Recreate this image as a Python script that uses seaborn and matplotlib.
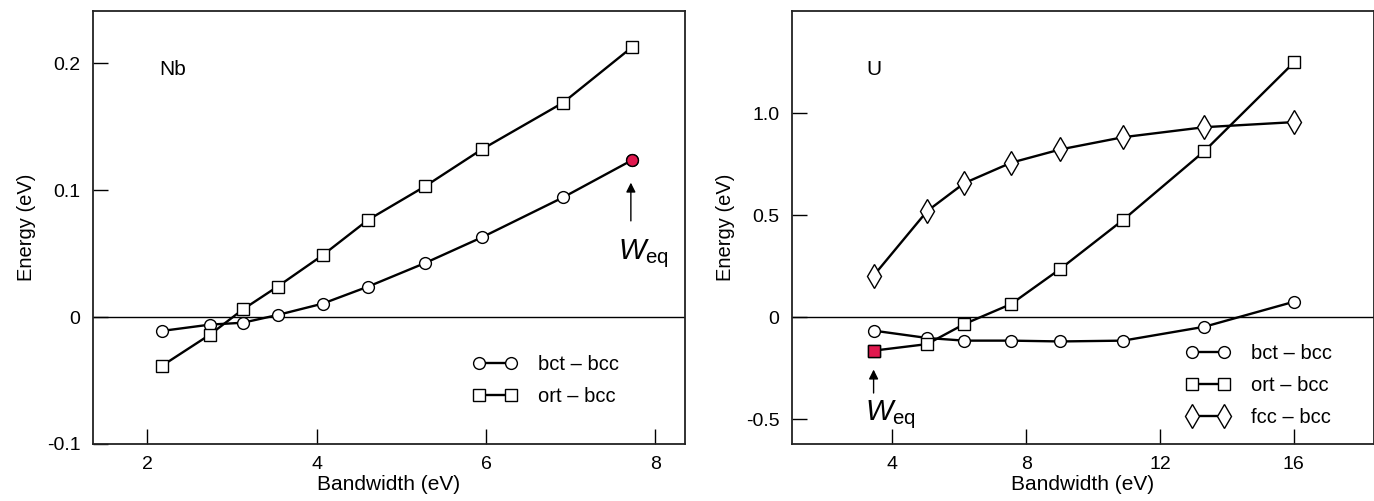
import numpy as np
import pandas as pd
import seaborn as sns
import matplotlib
matplotlib.use('Agg')
import matplotlib.pyplot as plt

# Nb panel
nb_width = [2.17, 2.74, 3.13, 3.54, 4.07, 4.61, 5.28, 5.95, 6.91, 7.72]
nb_bct = [-0.011, -0.006, -0.0045, 0.0016, 0.0105, 0.024, 0.0425, 0.0627, 0.0942, 0.1234]
nb_ort = [-0.0386, -0.0139, 0.006, 0.024, 0.0486, 0.0766, 0.1029, 0.132, 0.1688, 0.2123]
nb_weq = (7.72, 0.1234)

# U panel
u_width = [3.44, 5.04, 6.15, 7.55, 9.02, 10.9, 13.33, 16.02]
u_bct = [-0.065, -0.101, -0.114, -0.114, -0.118, -0.114, -0.046, 0.077]
u_ort = [-0.163, -0.131, -0.033, 0.065, 0.237, 0.477, 0.814, 1.25]
u_fcc = [0.204, 0.52, 0.657, 0.757, 0.822, 0.882, 0.931, 0.956]
u_weq = (3.44, -0.163)

nb_yticks = [-0.1, 0, 0.1, 0.2]
nb_ylabels = ['-0.1', '0', '0.1', '0.2']
nb_xticks = [2, 4, 6, 8]
u_yticks = [-0.5, 0, 0.5, 1.0]
u_ylabels = ['-0.5', '0', '0.5', '1.0']
u_xticks = [4, 8, 12, 16]

sns.set_style('white')
plt.rcParams['font.family'] = ['Liberation Sans', 'DejaVu Sans']
plt.rcParams['mathtext.fontset'] = 'custom'
plt.rcParams['mathtext.rm'] = 'Liberation Sans'
plt.rcParams['mathtext.it'] = 'Liberation Sans:italic'
plt.rcParams['axes.unicode_minus'] = False
plt.rcParams['text.color'] = 'black'
plt.rcParams['axes.labelcolor'] = 'black'

fig = plt.figure(figsize=(13.74, 5.01), dpi=100)
ax1 = fig.add_axes([0.0677, 0.1138, 0.4309, 0.8643])
ax2 = fig.add_axes([0.5764, 0.1138, 0.4236, 0.8643])

red = '#e0184e'
line_kw = dict(color='black', linewidth=1.7, markeredgecolor='black',
               markeredgewidth=1.0, markerfacecolor='white', errorbar=None)


def draw(ax, x, y, marker, size, label):
    df = pd.DataFrame({'w': x, 'e': y})
    sns.lineplot(data=df, x='w', y='e', ax=ax, marker=marker,
                 markersize=size, label=label, **line_kw)


draw(ax1, nb_width, nb_bct, 'o', 8.5, 'bct – bcc')
draw(ax1, nb_width, nb_ort, 's', 8, 'ort – bcc')
ax1.plot(*nb_weq, marker='o', markersize=8.5, markerfacecolor=red,
         markeredgecolor='black', markeredgewidth=1.0, zorder=5)

draw(ax2, u_width, u_bct, 'o', 8.5, 'bct – bcc')
draw(ax2, u_width, u_ort, 's', 8, 'ort – bcc')
draw(ax2, u_width, u_fcc, 'd', 12.5, 'fcc – bcc')
ax2.plot(*u_weq, marker='s', markersize=8, markerfacecolor=red,
         markeredgecolor='black', markeredgewidth=1.0, zorder=5)

for ax, xl, yl, xt, yt, ylab, name, nx in [
        (ax1, (1.36, 8.35), (-0.1, 0.241), nb_xticks, nb_yticks, nb_ylabels, 'Nb', 2.14),
        (ax2, (1.0, 18.4), (-0.62, 1.5), u_xticks, u_yticks, u_ylabels, 'U', 3.22)]:
    ax.axhline(0, color='black', linewidth=1.0, zorder=0)
    ax.set_xlim(*xl)
    ax.set_ylim(*yl)
    ax.set_xticks(xt)
    ax.set_xticklabels([str(t) for t in xt])
    ax.set_yticks(yt)
    ax.set_yticklabels(ylab)
    ax.tick_params(direction='in', length=11, width=1.0, labelsize=14,
                   pad=9, colors='black', left=True, bottom=True)
    for s in ax.spines.values():
        s.set_color('#222222')
        s.set_linewidth(1.3)
    ax.set_xlabel('Bandwidth (eV)', fontsize=15, labelpad=1)
    ax.set_ylabel('Energy (eV)', fontsize=14.5, labelpad=8)
    ax.text(nx, yl[1] - (yl[1] - yl[0]) * 0.135, name, fontsize=15,
            ha='left', va='center')

# W_eq arrows
ax1.annotate('', xy=(7.71, 0.108), xytext=(7.71, 0.0735),
             arrowprops=dict(arrowstyle='-|>', color='black', lw=1.0,
                             mutation_scale=14))
ax1.text(7.86, 0.05, r'$W_{\mathrm{eq}}$', fontsize=21, ha='center', va='center')
ax2.annotate('', xy=(3.44, -0.242), xytext=(3.44, -0.384),
             arrowprops=dict(arrowstyle='-|>', color='black', lw=1.0,
                             mutation_scale=14))
ax2.text(3.95, -0.475, r'$W_{\mathrm{eq}}$', fontsize=21, ha='center', va='center')

leg_kw = dict(frameon=False, numpoints=2, handlelength=2.2, handletextpad=1.0,
              fontsize=14.5, borderpad=0, labelspacing=0.65, loc='upper left')
ax1.legend(bbox_to_anchor=(0.625, 0.228), **leg_kw)
ax2.legend(bbox_to_anchor=(0.66, 0.255), **leg_kw)

fig.savefig('out.png', dpi=100)
